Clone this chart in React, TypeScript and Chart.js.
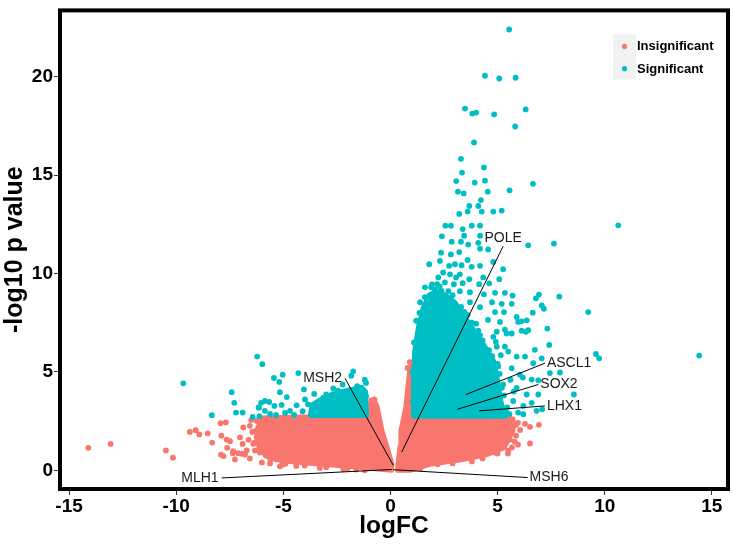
import React, { useEffect, useRef } from 'react';
import { Chart, registerables } from 'chart.js';

Chart.register(...registerables);

const SALMON = '#F8766D';
const TEAL = '#00BFC4';
const FONT = '"Liberation Sans", Arial, Helvetica, sans-serif';

const xTicks = [-15, -10, -5, 0, 5, 10, 15];
const yTicks = [0, 5, 10, 15, 20];
const xLabel = 'logFC';
const yLabel = '-log10 p value';
const legendLabels = ['Insignificant', 'Significant'];

// outlines of the dense (over-plotted) clouds, [logFC, -log10 p]
const insigLeftCloud: [number, number][] = [
  [-6.0, 2.71], [-4.22, 2.76], [-2.36, 2.76], [-1.14, 2.81], [-1.05, 3.37], [-0.68, 3.47],
  [-0.58, 3.27], [-0.35, 2.01], [-0.12, 1.21], [0.12, 0.3], [0.07, -0.05], [-0.49, 0.0],
  [-1.42, 0.1], [-2.59, 0.2], [-3.76, 0.3], [-4.69, 0.4], [-5.39, 0.5], [-5.86, 0.7],
  [-6.18, 1.16], [-6.28, 1.76], [-6.18, 2.31], [-6.0, 2.71],
];
const insigRightCloud: [number, number][] = [
  [0.3, 0.3], [0.4, 1.21], [0.44, 2.01], [0.68, 3.27], [0.77, 4.27], [0.86, 5.13], [0.98, 5.43],
  [1.0, 2.66], [5.72, 2.66], [5.76, 2.01], [5.34, 1.11], [4.5, 0.75], [3.38, 0.5], [1.84, 0.25],
  [0.91, -0.05], [0.3, -0.05], [0.3, 0.3],
];
const sigRightCloud: [number, number][] = [
  [1.03, 2.7], [1.03, 4.52], [1.08, 6.03], [1.26, 7.29], [1.49, 8.29], [1.77, 8.94], [2.12, 9.15],
  [2.59, 8.94], [3.06, 8.54], [3.52, 7.79], [3.99, 7.04], [4.46, 6.28], [4.88, 5.53], [5.05, 4.52],
  [5.2, 3.52], [5.39, 2.7], [1.03, 2.7],
];
const sigLeftCloud: [number, number][] = [
  [-3.8, 2.73], [-3.7, 3.35], [-3.3, 3.62], [-2.73, 3.92], [-1.98, 4.12], [-1.33, 4.27],
  [-1.12, 4.02], [-1.07, 2.73], [-3.8, 2.73],
];

// individual scattered genes
const insignificantPoints: [number, number][] = [
  [-14.1, 1.14], [-13.06, 1.34], [-10.48, 1.01], [-10.15, 0.64], [-9.36, 1.95], [-9.09, 2.04],
  [-8.92, 1.82], [-8.53, 1.88], [-8.32, 1.41], [-7.93, 2.39], [-7.68, 2.43], [-7.89, 1.76],
  [-7.65, 1.56], [-7.49, 1.48], [-7.34, 0.97], [-7.26, 0.55], [-7.91, 0.79], [-7.79, 0.72],
  [-6.87, 2.18], [-6.56, 2.26], [-7.02, 1.67], [-6.9, 1.34], [-6.71, 1.01], [-6.94, 0.84],
  [-7.62, 1.14], [-6.4, 1.34], [-6.32, 1.01], [-6.24, 1.67], [-6.24, 2.51], [-6.17, 2.18],
  [-6.09, 2.6], [-5.94, 2.18], [-7.36, 0.87], [-7.1, 0.87], [-6.79, 0.8], [-6.0, 0.4],
  [-5.62, 0.35], [-6.56, 0.6], [-5.16, 0.2], [-6.45, 1.95], [-6.5, 2.55], [-6.62, 1.55],
  [-5.05, 0.28], [-4.4, 0.22], [-3.3, 0.12], [-2.2, 0.06], [-1.2, 0.0],
  [-5.6, 0.55], [-4.9, 0.33], [-4.0, 0.24], [-3.0, 0.16], [-2.0, 0.1], [-1.6, 0.04],
  [-6.3, 2.0], [-6.35, 1.4], [-6.1, 0.9], [-0.9, 3.55], [-0.75, 3.6],
  [6.28, 2.36], [6.51, 2.21], [6.93, 2.31], [6.51, 1.36], [5.48, 0.85], [5.11, 1.41],
  [5.58, 1.56], [5.95, 2.41], [5.86, 1.76], [5.67, 1.16], [4.88, 0.9], [6.05, 2.05], [5.95, 1.3],
  [1.4, 0.1], [2.2, 0.3], [2.9, 0.35], [3.8, 0.45], [4.3, 0.6], [5.0, 0.85], [5.5, 1.0],
  [5.8, 1.45], [5.85, 2.3], [0.9, 5.5], [0.8, 5.2],
];
const significantPoints: [number, number][] = [
  [5.54, 22.4], [4.41, 20.05], [5.08, 19.91], [5.84, 19.95], [3.48, 18.38], [3.82, 18.13],
  [4.0, 18.18], [4.84, 18.09], [6.31, 18.34], [5.82, 17.47], [3.9, 16.66], [3.29, 15.83],
  [3.34, 15.13], [4.36, 15.39], [3.07, 14.7], [3.93, 14.62], [4.41, 14.72], [6.65, 14.56],
  [3.15, 14.16], [3.42, 14.07], [4.54, 14.16], [5.56, 14.23], [4.22, 13.73], [3.68, 13.43],
  [4.1, 13.43], [3.21, 13.03], [3.6, 13.15], [4.26, 13.15], [4.8, 13.15], [5.19, 13.2],
  [2.56, 12.43], [2.82, 12.43], [3.37, 12.26], [3.79, 12.43], [4.18, 12.43], [10.63, 12.45],
  [2.4, 11.89], [3.44, 11.92], [4.18, 11.92], [2.86, 11.62], [3.29, 11.62], [3.63, 11.47],
  [4.1, 11.56], [6.43, 11.43], [7.63, 11.52], [2.36, 11.06], [2.82, 10.97], [3.21, 11.09],
  [4.18, 11.26], [4.56, 11.22], [1.81, 10.47], [2.31, 10.64], [3.6, 10.69], [2.74, 10.39],
  [3.01, 10.47], [3.32, 10.42], [3.79, 10.34], [4.18, 10.39], [4.8, 10.59], [5.26, 10.22],
  [2.46, 10.05], [2.78, 9.96], [3.24, 9.96], [2.23, 9.8], [3.06, 9.8], [3.68, 9.71],
  [4.33, 9.8], [5.08, 9.71], [2.18, 9.46], [2.54, 9.55], [2.96, 9.46], [3.37, 9.51],
  [4.14, 9.46], [4.61, 9.5], [4.88, 9.02], [5.34, 9.02], [5.7, 8.88], [6.79, 8.74],
  [7.88, 8.83], [6.93, 8.93], [7.06, 8.38], [7.16, 8.21], [6.64, 8.01], [9.23, 8.04],
  [5.19, 8.46], [5.66, 8.46], [4.88, 8.04], [5.3, 8.04], [5.89, 7.79], [5.96, 7.54],
  [6.12, 7.57], [6.36, 7.62], [6.12, 7.09], [6.32, 7.04], [6.43, 7.12], [7.32, 7.2],
  [4.96, 7.04], [5.34, 7.15], [5.66, 6.95], [7.41, 6.37], [6.74, 6.12], [6.28, 5.78],
  [7.06, 5.69], [9.59, 5.91], [9.74, 5.69], [14.41, 5.83], [7.44, 4.94], [7.91, 4.97],
  [6.66, 5.44], [6.18, 4.71], [6.59, 4.61], [6.9, 4.57], [8.56, 3.85], [7.08, 3.1],
  [6.9, 3.85], [6.2, 2.85], [5.96, 2.93],
  [4.18, 6.87], [4.8, 6.78], [5.42, 6.95], [4.41, 6.2], [4.96, 6.28], [5.5, 6.03],
  [5.89, 5.78], [4.49, 5.53], [5.03, 5.28], [5.66, 5.19], [6.04, 4.86], [4.8, 4.71],
  [5.26, 4.36], [5.89, 4.19], [6.36, 3.85], [4.64, 3.85], [5.11, 3.43], [5.73, 3.52],
  [6.2, 3.27], [6.59, 3.43], [6.82, 3.02], [5.42, 2.93], [4.33, 3.18], [4.49, 4.36],
  [3.71, 8.54], [4.18, 8.29], [4.55, 7.64], [4.74, 8.54], [4.36, 8.94], [3.71, 9.05],
  [3.24, 9.1], [5.11, 7.54], [4.92, 6.53], [5.34, 6.28], [1.61, 9.3], [1.38, 8.54],
  [1.94, 9.45], [2.08, 9.18], [2.38, 9.12],
  [1.05, 3.5], [1.02, 5.0], [1.1, 6.5], [1.2, 7.6], [1.35, 8.0], [1.6, 8.8], [1.9, 9.3],
  [2.3, 9.35], [2.7, 9.1], [2.9, 8.9], [3.3, 8.3], [3.6, 7.9], [3.8, 7.5], [4.1, 7.1],
  [4.3, 6.6], [4.6, 6.1], [4.75, 5.8], [5.0, 5.4], [5.1, 4.9], [5.2, 4.2], [5.3, 3.8],
  [5.45, 3.2], [5.55, 2.85], [3.45, 8.05], [4.0, 7.45], [5.6, 4.6], [5.75, 4.0], [5.15, 5.85],
  [-6.22, 5.78], [-5.98, 5.39], [-9.67, 4.42], [-7.41, 3.97], [-7.29, 3.43], [-8.34, 2.8],
  [-7.21, 2.93], [-6.9, 2.93], [-6.43, 2.71], [-6.15, 3.2], [-6.12, 2.75], [-4.3, 4.94],
  [-5.44, 4.69], [-5.03, 4.86], [-5.19, 4.49], [-5.16, 3.97], [-4.04, 4.11], [-4.84, 3.72],
  [-6.04, 3.43], [-5.86, 3.52], [-5.66, 3.47], [-6.14, 3.18], [-5.86, 3.02], [-5.42, 3.27],
  [-5.08, 3.32], [-1.74, 5.03], [-1.83, 4.81], [-2.67, 4.16], [-2.23, 4.36], [-1.55, 4.27],
  [-1.14, 4.44], [-3.56, 3.88], [-3.14, 3.68], [-3.99, 3.6], [-4.38, 3.3], [-2.22, 3.93],
  [-1.89, 4.06], [-1.5, 3.85], [-4.69, 3.02], [-4.5, 2.81], [-4.92, 2.91], [-5.34, 2.81],
  [-5.62, 2.86], [-3.62, 3.12], [-2.82, 3.27], [-2.12, 3.52], [-1.33, 3.87], [-1.14, 3.77],
  [-2.45, 4.05], [-3.0, 3.85], [-1.2, 4.6], [-3.85, 3.35], [-4.1, 3.0],
];

// labelled genes
const geneNames = ['MSH2', 'POLE', 'ASCL1', 'SOX2', 'LHX1', 'MLH1', 'MSH6'];
const geneLogFC = [0.13, 0.52, 3.52, 3.12, 4.13, 0.06, 0.12];
const genePValue = [0.25, 0.92, 3.85, 3.1, 3.02, 0.04, 0.03];
const geneLabelX = [-2.12, 5.26, 7.21, 6.9, 7.21, -7.88, 6.4];
const geneLabelY = [4.67, 11.39, 5.44, 4.36, 3.27, -0.39, -0.37];
const geneLabelSide = ['left', 'top', 'right', 'right', 'right', 'left', 'right'];

const toXY = (arr: [number, number][]) => arr.map(([x, y]) => ({ x, y }));

const cloud = (data: [number, number][], color: string, order: number) => ({
  type: 'line' as const,
  data: toXY(data),
  borderColor: color,
  backgroundColor: color,
  borderWidth: 3,
  borderJoinStyle: 'round' as const,
  fill: 'shape' as any,
  pointRadius: 0,
  tension: 0,
  order,
});

const borderPlugin = {
  id: 'panelBorder',
  afterDraw(chart: any) {
    const { ctx, chartArea } = chart;
    ctx.save();
    ctx.strokeStyle = '#000';
    ctx.lineWidth = 4;
    ctx.strokeRect(chartArea.left - 2, chartArea.top - 2, chartArea.right - chartArea.left + 4, chartArea.bottom - chartArea.top + 4);
    ctx.restore();
  },
};

const geneLabelPlugin = {
  id: 'geneLabels',
  afterDatasetsDraw(chart: any) {
    const { ctx, scales } = chart;
    ctx.save();
    ctx.fillStyle = '#1a1a1a';
    ctx.font = `14px ${FONT}`;
    ctx.textBaseline = 'middle';
    geneNames.forEach((name, i) => {
      const px = scales.x.getPixelForValue(geneLabelX[i]);
      const py = scales.y.getPixelForValue(geneLabelY[i]);
      const side = geneLabelSide[i];
      if (side === 'left') {
        ctx.textAlign = 'right';
        ctx.fillText(name, px - 3, py);
      } else if (side === 'right') {
        ctx.textAlign = 'left';
        ctx.fillText(name, px + 2, py);
      } else {
        ctx.textAlign = 'center';
        ctx.fillText(name, px, py - 8);
      }
    });
    ctx.restore();
  },
};

const legendPlugin = {
  id: 'customLegend',
  afterDraw(chart: any) {
    const { ctx, chartArea } = chart;
    const bx = chartArea.right - 113;
    const by = chartArea.top + 22;
    ctx.save();
    ctx.fillStyle = '#F2F2F2';
    ctx.fillRect(bx, by, 23, 45);
    const colors = [SALMON, TEAL];
    legendLabels.forEach((lab, i) => {
      const cy = by + 12 + i * 22.3;
      ctx.fillStyle = colors[i];
      ctx.beginPath();
      ctx.arc(bx + 11.5, cy, 2.6, 0, Math.PI * 2);
      ctx.fill();
      ctx.fillStyle = '#000';
      ctx.font = `bold 13px ${FONT}`;
      ctx.textAlign = 'left';
      ctx.textBaseline = 'middle';
      ctx.fillText(lab, bx + 24, cy + 0.5);
    });
    ctx.restore();
  },
};

export default function App() {
  const ref = useRef<HTMLCanvasElement | null>(null);
  useEffect(() => {
    if (!ref.current) return;
    const pointDs = (data: [number, number][], color: string, order: number) => ({
      type: 'scatter' as const,
      data: toXY(data),
      pointRadius: 2.9,
      pointBorderWidth: 0,
      pointBackgroundColor: color,
      backgroundColor: color,
      borderColor: color,
      order,
    });
    const geneLines = geneNames.map((n, i) => ({
      type: 'line' as const,
      label: n,
      data: [
        { x: geneLogFC[i], y: genePValue[i] },
        { x: geneLabelX[i], y: geneLabelY[i] },
      ],
      borderColor: '#000',
      borderWidth: 1,
      pointRadius: 0,
      fill: false,
      tension: 0,
      order: 0,
    }));
    const chart = new Chart(ref.current, {
      type: 'scatter',
      data: {
        datasets: [
          ...geneLines,
          pointDs(significantPoints, TEAL, 1),
          pointDs(insignificantPoints, SALMON, 2),
          cloud(sigRightCloud, TEAL, 3),
          cloud(sigLeftCloud, TEAL, 3),
          cloud(insigLeftCloud, SALMON, 4),
          cloud(insigRightCloud, SALMON, 4),
        ] as any,
      },
      options: {
        animation: false,
        responsive: false,
        events: [],
        layout: { padding: { top: 7, right: 7, left: 0, bottom: 0 } },
        plugins: { legend: { display: false }, tooltip: { enabled: false } },
        scales: {
          x: {
            type: 'linear',
            min: -15.33,
            max: 15.66,
            afterBuildTicks: (s: any) => { s.ticks = xTicks.map((v) => ({ value: v })); },
            afterFit: (s: any) => { s.height = 61; },
            grid: { display: true, drawOnChartArea: false, drawTicks: true, tickLength: 8, color: '#333', lineWidth: 1 },
            border: { display: false },
            ticks: { color: '#000', font: { family: FONT, size: 19, weight: 'bold' }, padding: 0, maxRotation: 0, autoSkip: false },
            title: { display: true, text: xLabel, color: '#000', font: { family: FONT, size: 24.5, weight: 'bold' }, padding: { top: 0, bottom: 7 } },
          },
          y: {
            type: 'linear',
            min: -0.85,
            max: 23.27,
            afterBuildTicks: (s: any) => { s.ticks = yTicks.map((v) => ({ value: v })); },
            afterFit: (s: any) => { s.width = 62; },
            grid: { display: true, drawOnChartArea: false, drawTicks: true, tickLength: 8, color: '#333', lineWidth: 1 },
            border: { display: false },
            ticks: { color: '#000', font: { family: FONT, size: 19, weight: 'bold' }, padding: 1 },
            title: { display: true, text: yLabel, color: '#000', font: { family: FONT, size: 25, weight: 'bold' }, padding: { top: 0, bottom: 0 } },
          },
        },
      } as any,
      plugins: [borderPlugin, geneLabelPlugin, legendPlugin],
    });
    return () => chart.destroy();
  }, []);
  return (
    <div style={{ position: 'absolute', left: 0, top: 0, width: 733, height: 548, background: '#fff' }}>
      <canvas ref={ref} width={733} height={548} style={{ display: 'block' }} />
    </div>
  );
}
